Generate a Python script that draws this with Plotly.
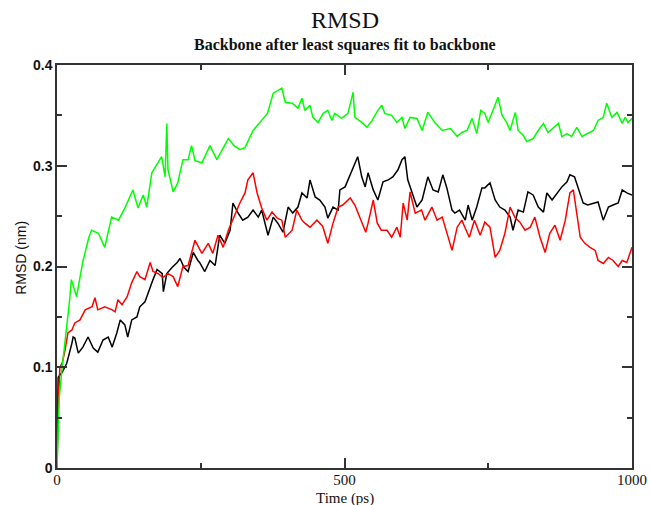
import plotly.graph_objects as go

# ---- data ----
green_t = [0, 4, 9, 15, 22, 25, 30, 34, 45, 55, 60, 72, 83, 95, 107, 118, 132, 141, 150, 156, 165, 176, 182, 188, 191, 193,
           202, 210, 219, 228, 234, 240, 252, 266, 278, 298, 308, 318, 327, 341, 356, 366, 376, 391, 397, 409, 419, 426, 431,
           440, 445, 454, 463, 471, 478, 483, 495, 506, 515, 518, 530, 539, 548, 558, 565, 570, 582, 591, 600, 605, 614, 626,
           635, 645, 657, 670, 684, 696, 704, 713, 722, 730, 737, 744, 750, 758, 767, 774, 782, 788, 797, 802, 811, 817, 828,
           837, 846, 854, 863, 872, 878, 887, 895, 904, 913, 922, 933, 941, 950, 956, 965, 974, 983, 988, 993, 1000]
green_v = [0, 0.07, 0.10, 0.13, 0.167, 0.187, 0.178, 0.17, 0.205, 0.228, 0.236, 0.233, 0.219, 0.249, 0.246, 0.258, 0.276,
           0.258, 0.271, 0.259, 0.293, 0.304, 0.309, 0.289, 0.342, 0.296, 0.274, 0.283, 0.306, 0.306, 0.32, 0.305, 0.303,
           0.32, 0.306, 0.327, 0.32, 0.316, 0.318, 0.335, 0.345, 0.352, 0.372, 0.377, 0.363, 0.362, 0.357, 0.367, 0.355,
           0.36, 0.348, 0.343, 0.352, 0.355, 0.345, 0.352, 0.347, 0.352, 0.373, 0.348, 0.343, 0.338, 0.345, 0.355, 0.36,
           0.352, 0.35, 0.343, 0.348, 0.337, 0.348, 0.347, 0.335, 0.353, 0.343, 0.335, 0.337, 0.329, 0.333, 0.335, 0.347,
           0.332, 0.355, 0.352, 0.343, 0.355, 0.368, 0.35, 0.343, 0.335, 0.353, 0.335, 0.33, 0.324, 0.327, 0.335, 0.342,
           0.333, 0.338, 0.342, 0.329, 0.332, 0.329, 0.338, 0.329, 0.332, 0.335, 0.345, 0.348, 0.362, 0.348, 0.353, 0.342,
           0.348, 0.343, 0.347]

red_t = [0, 2, 5, 9, 14, 19, 26, 31, 40, 49, 61, 66, 71, 83, 96, 101, 106, 113, 122, 130, 139, 144, 153, 162, 167, 176,
         184, 193, 202, 210, 219, 228, 240, 252, 263, 271, 280, 289, 298, 310, 318, 327, 332, 341, 348, 356, 365, 374, 383,
         391, 397, 409, 417, 426, 431, 440, 452, 462, 471, 480, 489, 497, 501, 510, 518, 527, 537, 541, 550, 557, 564, 574,
         582, 591, 597, 602, 609, 614, 623, 634, 640, 652, 661, 670, 678, 687, 696, 704, 710, 717, 726, 736, 744, 753, 762,
         770, 779, 788, 797, 805, 814, 823, 831, 840, 849, 857, 866, 875, 884, 892, 898, 904, 910, 918, 927, 936, 941, 950,
         959, 967, 976, 983, 991, 1000]
red_v = [0, 0.06, 0.10, 0.104, 0.117, 0.134, 0.137, 0.144, 0.147, 0.157, 0.16, 0.169, 0.157, 0.16, 0.157, 0.155, 0.167,
         0.162, 0.17, 0.184, 0.195, 0.19, 0.187, 0.204, 0.195, 0.193, 0.189, 0.193, 0.19, 0.18, 0.2, 0.201, 0.226, 0.213,
         0.223, 0.213, 0.231, 0.219, 0.236, 0.253, 0.263, 0.273, 0.286, 0.293, 0.273, 0.258, 0.246, 0.254, 0.248, 0.246,
         0.229, 0.236, 0.256, 0.246, 0.243, 0.239, 0.246, 0.24, 0.223, 0.243, 0.259, 0.261, 0.263, 0.268, 0.261, 0.249,
         0.234, 0.243, 0.266, 0.243, 0.236, 0.236, 0.229, 0.239, 0.229, 0.263, 0.246, 0.274, 0.253, 0.256, 0.246, 0.259,
         0.246, 0.249, 0.234, 0.216, 0.239, 0.246, 0.238, 0.229, 0.246, 0.231, 0.244, 0.239, 0.209, 0.216, 0.233, 0.259,
         0.248, 0.244, 0.236, 0.239, 0.249, 0.229, 0.214, 0.233, 0.241, 0.226, 0.246, 0.273, 0.276, 0.253, 0.229, 0.223,
         0.219, 0.216, 0.206, 0.203, 0.209, 0.206, 0.2, 0.206, 0.204, 0.219]

black_t = [0, 2, 9, 14, 17, 26, 28, 31, 37, 45, 54, 63, 71, 80, 89, 96, 104, 110, 118, 123, 130, 139, 144, 153, 162, 167,
           174, 183, 185, 191, 200, 209, 214, 221, 228, 237, 245, 248, 257, 266, 275, 283, 292, 301, 306, 314, 323, 332,
           341, 350, 356, 367, 376, 384, 393, 402, 410, 419, 426, 435, 440, 449, 457, 466, 471, 480, 489, 492, 501, 510,
           518, 523, 530, 536, 541, 550, 558, 567, 576, 584, 593, 600, 605, 610, 616, 626, 635, 645, 654, 663, 671, 678,
           687, 692, 700, 710, 715, 722, 730, 739, 744, 753, 762, 770, 779, 788, 793, 802, 811, 819, 828, 837, 846, 852,
           861, 870, 878, 887, 892, 900, 906, 915, 923, 933, 941, 950, 959, 967, 976, 983, 991, 1000]
black_v = [0, 0.09, 0.095, 0.1, 0.104, 0.124, 0.13, 0.129, 0.114, 0.12, 0.13, 0.119, 0.115, 0.127, 0.13, 0.12, 0.134,
           0.147, 0.142, 0.13, 0.147, 0.15, 0.16, 0.165, 0.18, 0.187, 0.197, 0.193, 0.175, 0.193, 0.199, 0.204, 0.208,
           0.199, 0.195, 0.214, 0.206, 0.204, 0.195, 0.206, 0.201, 0.231, 0.223, 0.236, 0.263, 0.254, 0.246, 0.249, 0.256,
           0.249, 0.256, 0.231, 0.249, 0.243, 0.234, 0.259, 0.253, 0.259, 0.273, 0.268, 0.286, 0.269, 0.266, 0.259, 0.248,
           0.259, 0.256, 0.276, 0.279, 0.291, 0.303, 0.309, 0.289, 0.279, 0.293, 0.276, 0.266, 0.284, 0.286, 0.289, 0.296,
           0.306, 0.309, 0.286, 0.276, 0.259, 0.266, 0.289, 0.276, 0.274, 0.291, 0.278, 0.256, 0.253, 0.256, 0.246, 0.261,
           0.246, 0.259, 0.278, 0.278, 0.283, 0.266, 0.259, 0.256, 0.249, 0.236, 0.256, 0.254, 0.274, 0.271, 0.259, 0.254,
           0.273, 0.266, 0.273, 0.279, 0.284, 0.291, 0.289, 0.279, 0.263, 0.261, 0.263, 0.264, 0.246, 0.259, 0.261, 0.263,
           0.276, 0.273, 0.271]

x_ticks = [0, 500, 1000]
x_tick_text = ["0", "500", "1000"]
y_ticks = [0, 0.1, 0.2, 0.3, 0.4]
y_tick_text = ["0", "0.1", "0.2", "0.3", "0.4"]

title_text = "RMSD"
subtitle_text = "Backbone after least squares fit to backbone"
x_title = "Time (ps)"
y_title = "RMSD (nm)"

fig = go.Figure()
for t, v, c in [(black_t, black_v, "#000000"), (red_t, red_v, "#ff0000"), (green_t, green_v, "#00ff00")]:
    fig.add_trace(go.Scatter(x=t, y=v, mode="lines", line=dict(color=c, width=1.5), showlegend=False,
                             hoverinfo="skip"))

axis_common = dict(showgrid=False, zeroline=False, showline=True, linecolor="#333333", linewidth=1.5,
                   mirror="ticks", ticks="inside", tickcolor="#333333", tickwidth=1.5, ticklen=10,
                   automargin=False)

fig.update_xaxes(range=[0, 1000], tickvals=x_ticks, ticktext=x_tick_text,
                 tickfont=dict(family="Liberation Serif", size=15, color="#111111"),
                 ticklabelstandoff=-3,
                 minor=dict(dtick=250, ticks="inside", ticklen=5, tickwidth=1.5, tickcolor="#333333"),
                 **axis_common)
fig.update_yaxes(range=[0, 0.4], tickvals=y_ticks, ticktext=y_tick_text,
                 tickfont=dict(family="Liberation Sans", size=14, color="#111111", weight="bold"),
                 minor=dict(dtick=0.05, ticks="inside", ticklen=5, tickwidth=1.5, tickcolor="#333333"),
                 **axis_common)

fig.update_layout(
    width=650, height=505,
    margin=dict(l=57, r=18, t=65, b=37, autoexpand=False),
    paper_bgcolor="white", plot_bgcolor="white",
    annotations=[
        dict(text=title_text, x=0.5, y=1.112, xref="paper", yref="paper", showarrow=False,
             xanchor="center", yanchor="middle", font=dict(family="Liberation Serif", size=24, color="#111111")),
        dict(text=subtitle_text, x=0.5, y=1.050, xref="paper", yref="paper", showarrow=False,
             xanchor="center", yanchor="middle",
             font=dict(family="Liberation Serif", size=16, color="#111111", weight="bold")),
        dict(text=x_title, x=0.5, y=-0.076, xref="paper", yref="paper", showarrow=False,
             xanchor="center", yanchor="middle", font=dict(family="Liberation Serif", size=15, color="#111111")),
        dict(text=y_title, x=-0.064, y=0.522, xref="paper", yref="paper", showarrow=False, textangle=-90,
             xanchor="center", yanchor="middle", font=dict(family="Liberation Sans", size=14, color="#111111")),
    ],
)

fig.write_html("out.html")
